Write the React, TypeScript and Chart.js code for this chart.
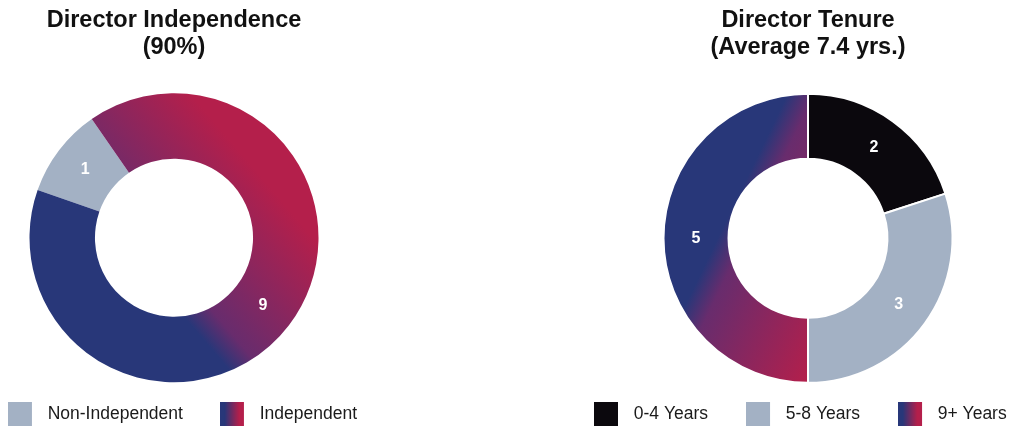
import React, { useEffect, useRef } from 'react';
import { Chart, registerables } from 'chart.js';

Chart.register(...registerables);

// ---- data ----
const independenceTitle = ['Director Independence', '(90%)'];
const independenceLabels = ['Non-Independent', 'Independent'];
const independenceValues = [1, 9];

const tenureTitle = ['Director Tenure', '(Average 7.4 yrs.)'];
const tenureLabels = ['0-4 Years', '5-8 Years', '9+ Years'];
const tenureValues = [2, 3, 5];

// ---- styles ----
const BLUE = '#283779';
const PURPLE = '#682C6D';
const RED = '#B41F4B';
const GRAY = '#A3B1C4';
const BLACK = '#0B080D';
const GRAD = 'gradient';
const FONT = '"Liberation Sans", Arial, Helvetica, sans-serif';

const independenceColors = [GRAY, GRAD];
const tenureColors = [BLACK, GRAY, GRAD];

type Cfg = {
  title: string[];
  labels: string[];
  values: number[];
  colors: string[];
  rotation: number;
  grad: [number, number, number, number];
  left: number;
  width: number;
  height: number;
  legendAlign: 'start' | 'end' | 'center';
  legendPadding: number;
  titleBottom: number;
  radius: number;
  cutout: string;
  borderWidth: number;
};

function makeIcon(color: string): HTMLCanvasElement {
  const c = document.createElement('canvas');
  c.width = 31;
  c.height = 24;
  const g = c.getContext('2d')!;
  if (color === GRAD) {
    const lg = g.createLinearGradient(0, 0, 24, 0);
    lg.addColorStop(0, BLUE);
    lg.addColorStop(0.2, BLUE);
    lg.addColorStop(0.8, RED);
    lg.addColorStop(1, RED);
    g.fillStyle = lg;
  } else {
    g.fillStyle = color;
  }
  g.fillRect(0, 0, 24, 24);
  return c;
}

const valueLabels = {
  id: 'valueLabels',
  afterDatasetsDraw(chart: any) {
    const ctx = chart.ctx;
    const meta = chart.getDatasetMeta(0);
    const data = chart.data.datasets[0].data;
    ctx.save();
    ctx.font = `bold 16px ${FONT}`;
    ctx.fillStyle = '#ffffff';
    ctx.textAlign = 'center';
    ctx.textBaseline = 'middle';
    meta.data.forEach((arc: any, i: number) => {
      const p = arc.tooltipPosition(false);
      ctx.fillText(String(data[i]), p.x, p.y);
    });
    ctx.restore();
  },
};

function Donut({ cfg }: { cfg: Cfg }) {
  const ref = useRef<HTMLCanvasElement>(null);
  useEffect(() => {
    const icons = cfg.colors.map(makeIcon);
    const chart = new Chart(ref.current!, {
      type: 'doughnut',
      data: {
        labels: cfg.labels,
        datasets: [
          {
            data: cfg.values,
            clip: false as any,
            borderWidth: cfg.borderWidth,
            borderColor: '#ffffff',
            backgroundColor: (c: any) => {
              const col = cfg.colors[c.dataIndex];
              if (col !== GRAD) return col;
              const area = c.chart.chartArea;
              if (!area) return BLUE;
              const cx = (area.left + area.right) / 2;
              const cy = (area.top + area.bottom) / 2;
              const [x0, y0, x1, y1] = cfg.grad;
              const g = c.chart.ctx.createLinearGradient(cx + x0, cy + y0, cx + x1, cy + y1);
              g.addColorStop(0, BLUE);
              g.addColorStop(0.17, PURPLE);
              g.addColorStop(1, RED);
              return g;
            },
          } as any,
        ],
      },
      options: {
        responsive: false,
        animation: false,
        events: [],
        rotation: cfg.rotation,
        radius: cfg.radius,
        cutout: cfg.cutout,
        layout: { padding: 0 },
        plugins: {
          tooltip: { enabled: false },
          title: {
            display: true,
            text: cfg.title,
            color: '#111111',
            font: { family: FONT, size: 23.5, weight: 'bold', lineHeight: 1.136 },
            padding: { top: 7, bottom: cfg.titleBottom },
          },
          legend: {
            display: true,
            position: 'bottom',
            align: cfg.legendAlign,
            labels: {
              usePointStyle: true,
              pointStyleWidth: 31,
              padding: cfg.legendPadding,
              color: '#1a1a1a',
              font: { family: FONT, size: 17.5 },
              generateLabels: () =>
                cfg.labels.map((text, i) => ({
                  text,
                  pointStyle: icons[i],
                  fillStyle: 'transparent',
                  strokeStyle: 'transparent',
                  fontColor: '#1a1a1a',
                  lineWidth: 0,
                  hidden: false,
                  index: i,
                })),
            },
          },
        },
      } as any,
      plugins: [valueLabels],
    });
    return () => chart.destroy();
  }, []);
  return (
    <canvas
      ref={ref}
      width={cfg.width}
      height={cfg.height}
      style={{ position: 'absolute', left: cfg.left, top: 0, width: cfg.width, height: cfg.height }}
    />
  );
}

const leftCfg: Cfg = {
  title: independenceTitle,
  labels: independenceLabels,
  values: independenceValues,
  colors: independenceColors,
  rotation: -70.7,
  grad: [14, 84, 128, -13],
  left: -46.5,
  width: 440,
  height: 433,
  legendAlign: 'end',
  legendPadding: 37,
  titleBottom: 46.5,
  radius: 144.5,
  cutout: '54.7%',
  borderWidth: 0,
};

const rightCfg: Cfg = {
  title: tenureTitle,
  labels: tenureLabels,
  values: tenureValues,
  colors: tenureColors,
  rotation: 0,
  grad: [-118, 57, 12, 120],
  left: 556.3,
  width: 504,
  height: 433,
  legendAlign: 'start',
  legendPadding: 38,
  titleBottom: 48.7,
  radius: 144.5,
  cutout: '55%',
  borderWidth: 2,
};

export default function App() {
  return (
    <div
      style={{
        position: 'absolute',
        left: 0,
        top: 0,
        width: 1010,
        height: 426,
        overflow: 'hidden',
        background: '#ffffff',
      }}
    >
      <Donut cfg={leftCfg} />
      <Donut cfg={rightCfg} />
    </div>
  );
}
